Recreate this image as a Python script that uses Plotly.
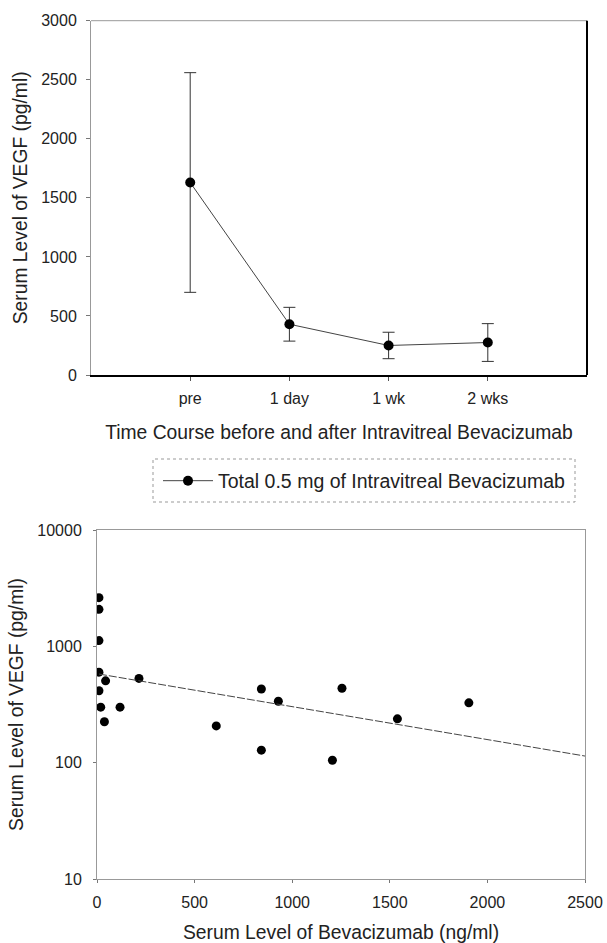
import plotly.graph_objects as go

# ---- Top panel data: time course ----
time_labels = ["pre", "1 day", "1 wk", "2 wks"]
vegf_mean = [1630, 430, 250, 275]
vegf_err = [930, 143, 112, 160]
series_name = "Total 0.5 mg of Intravitreal Bevacizumab"

# ---- Bottom panel data: scatter ----
bev_serum = [10, 10, 10, 10, 44, 10, 19, 38, 118, 215, 611, 842, 842, 929, 1206, 1255, 1539, 1905]
vegf_serum = [2620, 2080, 1120, 600, 505, 415, 300, 225, 300, 530, 207, 430, 128, 337, 105, 436, 238, 327]
trend_x = [10, 2500]
trend_y = [578, 114]

FONT = "Liberation Sans, Arial, sans-serif"
W, H = 607, 943

fig = go.Figure()

fig.add_trace(go.Scatter(
    x=time_labels, y=vegf_mean, mode="lines+markers", name=series_name,
    line=dict(color="#444", width=1),
    marker=dict(color="black", size=10),
    error_y=dict(type="data", array=vegf_err, color="#333", thickness=1, width=6),
    xaxis="x", yaxis="y", showlegend=True,
))

fig.add_trace(go.Scatter(
    x=bev_serum, y=vegf_serum, mode="markers",
    marker=dict(color="black", size=9),
    xaxis="x2", yaxis="y2", showlegend=False,
))
fig.add_trace(go.Scatter(
    x=trend_x, y=trend_y, mode="lines",
    line=dict(color="#444", width=1, dash="8px,2px"),
    xaxis="x2", yaxis="y2", showlegend=False,
))

def px(x):
    return x / W

def py(y):
    return 1 - y / H

tickfont = dict(family=FONT, size=16, color="#222")
titlefont = dict(family=FONT, size=19.3, color="#222")

fig.update_layout(
    width=W, height=H,
    margin=dict(l=0, r=0, t=0, b=0),
    paper_bgcolor="white", plot_bgcolor="white",
    font=dict(family=FONT, color="#222"),
    xaxis=dict(
        domain=[px(91), px(587)], anchor="y",
        type="category", range=[-1, 4],
        showline=True, linecolor="black", linewidth=1.5,
        ticks="outside", ticklen=4, tickcolor="#555",
        showgrid=False, zeroline=False,
        tickfont=tickfont, ticklabelstandoff=4,
        title=dict(text="Time Course before and after Intravitreal Bevacizumab",
                   font=titlefont, standoff=20),
        automargin=False,
    ),
    yaxis=dict(
        domain=[py(375), py(20.7)], anchor="x",
        range=[0, 3000], dtick=500,
        showline=True, linecolor="#999", linewidth=1,
        ticks="outside", ticklen=4, tickcolor="#777",
        showgrid=False, zeroline=False,
        tickfont=tickfont, ticklabelstandoff=6,
        title=dict(text="Serum Level of VEGF (pg/ml)", font=titlefont, standoff=8),
        automargin=False,
    ),
    xaxis2=dict(
        domain=[px(97), px(585)], anchor="y2",
        range=[0, 2500], dtick=500,
        showline=True, linecolor="#999", linewidth=1, mirror=True,
        ticks="outside", ticklen=3, tickcolor="#777",
        showgrid=False, zeroline=False,
        tickfont=tickfont, ticklabelstandoff=6,
        title=dict(text="Serum Level of Bevacizumab (ng/ml)", font=titlefont, standoff=16),
        automargin=False,
    ),
    yaxis2=dict(
        domain=[py(879), py(530)], anchor="x2",
        type="log", range=[1, 4],
        tickvals=[10, 100, 1000, 10000], ticktext=["10", "100", "1000", "10000"],
        showline=True, linecolor="#999", linewidth=1, mirror=True,
        ticks="outside", ticklen=3, tickcolor="#777",
        showgrid=False, zeroline=False,
        tickfont=tickfont, ticklabelstandoff=8,
        title=dict(text="Serum Level of VEGF (pg/ml)", font=titlefont, standoff=8),
        automargin=False,
    ),
    legend=dict(
        x=px(158), y=py(481), xanchor="left", yanchor="middle",
        borderwidth=0, bgcolor="rgba(0,0,0,0)",
        font=dict(family=FONT, size=19.5, color="#222"),
        itemwidth=50,
    ),
    shapes=[
        dict(type="line", xref="x domain", yref="y domain", x0=0, x1=1, y0=1, y1=1,
             line=dict(color="#999", width=1)),
        dict(type="line", xref="x domain", yref="y domain", x0=1, x1=1, y0=0, y1=1,
             line=dict(color="black", width=2)),
        dict(type="rect", xref="paper", yref="paper",
             x0=px(153), x1=px(575), y0=py(502), y1=py(459),
             line=dict(color="#999", width=1, dash="dot")),
    ],
)

fig.write_html("out.html", config={"displayModeBar": False},
               post_script="document.body.style.margin='0px';")
